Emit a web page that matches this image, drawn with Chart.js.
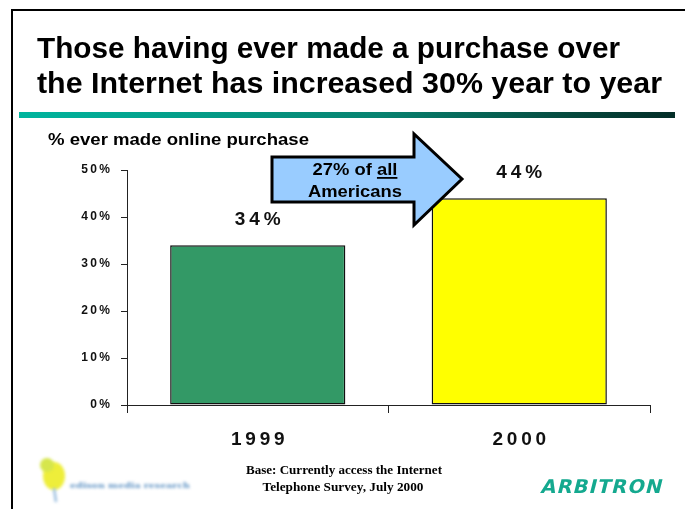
<!DOCTYPE html>
<html lang="en">
<head>
  <meta charset="UTF-8">
  <title>Online purchase</title>
  <script src="https://cdn.jsdelivr.net/npm/chart.js@4/dist/chart.umd.min.js"></script>
  <style>
    body {
      margin: 0;
      padding: 0;
      background-color: #ffffff;
    }
    canvas {
      display: block;
    }
  </style>
</head>
<body>
  <canvas id="chart" width="685" height="509"></canvas>

  <script>
    // Data
    const years = ['1999', '2000'];
    const purchased = [34, 44];
    const barColors = ['#339966', '#ffff00'];
    const yTicks = [0, 10, 20, 30, 40, 50];

    const titleLines = [
      'Those having ever made a purchase over',
      'the Internet has increased 30% year to year'
    ];
    const axisTitle = '% ever made online purchase';
    const footLines = ['Base: Currently access the Internet', 'Telephone Survey, July 2000'];

    // put thin spaces between characters (wide tracking on the axis labels)
    function spread(s) {
      return String(s).split('').join('\u2009');
    }

    // draw text squeezed/stretched to a given width
    function fitText(ctx, text, x, y, width, align) {
      const w = ctx.measureText(text).width;
      const sx = width / w;
      ctx.save();
      ctx.translate(x, y);
      ctx.scale(sx, 1);
      ctx.textAlign = align || 'left';
      ctx.fillText(text, 0, 0);
      ctx.restore();
    }

    // value labels above the bars
    const valueLabels = {
      id: 'valueLabels',
      afterDatasetsDraw(chart) {
        const ctx = chart.ctx;
        const meta = chart.getDatasetMeta(0);
        ctx.save();
        ctx.font = 'bold 19px "Liberation Sans", Arial, sans-serif';
        ctx.fillStyle = '#111';
        ctx.textAlign = 'center';
        ctx.textBaseline = 'alphabetic';
        ctx.letterSpacing = '4px';
        meta.data.forEach((bar, i) => {
          ctx.fillText(purchased[i] + '%', bar.x + 2, bar.y - 20);
        });
        ctx.restore();
      }
    };

    // slide decoration: frame, title, rule, arrow callout, footer
    const slide = {
      id: 'slide',
      afterDraw(chart) {
        const ctx = chart.ctx;
        ctx.save();

        // frame
        ctx.fillStyle = '#000';
        ctx.fillRect(11, 9, 685, 2);
        ctx.fillRect(11, 9, 2, 509);

        // title
        ctx.fillStyle = '#000';
        ctx.font = 'bold 29px "Liberation Sans", Arial, sans-serif';
        ctx.textBaseline = 'alphabetic';
        fitText(ctx, titleLines[0], 37, 58, 583);
        fitText(ctx, titleLines[1], 37, 93, 625);

        // rule under the title
        const g = ctx.createLinearGradient(19, 0, 675, 0);
        g.addColorStop(0, '#00b59e');
        g.addColorStop(0.55, '#078270');
        g.addColorStop(0.85, '#06483d');
        g.addColorStop(1, '#032d27');
        ctx.fillStyle = g;
        ctx.fillRect(19, 112, 656, 6);

        // axis title
        ctx.fillStyle = '#000';
        ctx.font = 'bold 16px "Liberation Sans", Arial, sans-serif';
        fitText(ctx, axisTitle, 48, 145, 261);

        // arrow callout
        ctx.beginPath();
        ctx.moveTo(272, 157);
        ctx.lineTo(414, 157);
        ctx.lineTo(414, 134);
        ctx.lineTo(462, 179);
        ctx.lineTo(414, 225);
        ctx.lineTo(414, 202);
        ctx.lineTo(272, 202);
        ctx.closePath();
        ctx.fillStyle = '#99ccff';
        ctx.fill();
        ctx.lineWidth = 3;
        ctx.lineJoin = 'miter';
        ctx.strokeStyle = '#000';
        ctx.stroke();

        ctx.fillStyle = '#000';
        ctx.font = 'bold 17px "Liberation Sans", Arial, sans-serif';
        const sx = 94 / ctx.measureText('Americans').width;
        ctx.save();
        ctx.translate(355, 175);
        ctx.scale(sx, 1);
        const pre = '27% of ';
        const wPre = ctx.measureText(pre).width;
        const wAll = ctx.measureText('all').width;
        const x0 = -(wPre + wAll) / 2;
        ctx.textAlign = 'left';
        ctx.fillText(pre, x0, 0);
        ctx.fillText('all', x0 + wPre, 0);
        ctx.fillRect(x0 + wPre, 2, wAll, 1.8);
        ctx.restore();
        fitText(ctx, 'Americans', 355, 197, 94, 'center');

        // footer note
        ctx.font = 'bold 12px "Liberation Serif", "Times New Roman", serif';
        ctx.fillStyle = '#000';
        fitText(ctx, footLines[0], 344, 474, 196, 'center');
        fitText(ctx, footLines[1], 343, 491, 161, 'center');

        // ARBITRON wordmark
        ctx.fillStyle = '#14a98f';
        ctx.font = 'bold 19px "DejaVu Sans", sans-serif';
        ctx.save();
        ctx.translate(540, 493);
        ctx.transform(1, 0, -0.25, 1, 0, 0);
        ctx.letterSpacing = '1px';
        fitText(ctx, 'ARBITRON', 0, 0, 122);
        ctx.restore();

        // edison media research mark (soft)
        ctx.filter = 'blur(1.5px)';
        ctx.fillStyle = '#eeee3a';
        ctx.beginPath();
        ctx.ellipse(54, 476, 11, 14, 0, 0, Math.PI * 2);
        ctx.fill();
        ctx.fillStyle = '#d6e64c';
        ctx.beginPath();
        ctx.ellipse(47, 465, 7, 7, 0, 0, Math.PI * 2);
        ctx.fill();
        ctx.strokeStyle = '#9cbfe0';
        ctx.lineWidth = 2.5;
        ctx.beginPath();
        ctx.moveTo(54, 488);
        ctx.lineTo(56, 502);
        ctx.stroke();
        ctx.fillStyle = '#5f93c4';
        ctx.font = 'bold 8px "DejaVu Serif", serif';
        fitText(ctx, 'edison media research', 70, 488, 120);
        ctx.filter = 'none';

        ctx.restore();
      }
    };

    const ctx = document.getElementById('chart').getContext('2d');
    const chart = new Chart(ctx, {
      type: 'bar',
      data: {
        labels: years,
        datasets: [{
          data: purchased,
          backgroundColor: barColors,
          borderColor: '#111',
          borderWidth: 1.5,
          borderSkipped: false,
          categoryPercentage: 1,
          barPercentage: 0.67
        }]
      },
      options: {
        responsive: false,
        animation: false,
        layout: {
          padding: { left: 0, right: 35, top: 170, bottom: 54 }
        },
        plugins: {
          legend: { display: false },
          tooltip: { enabled: false }
        },
        scales: {
          x: {
            grid: {
              offset: true,
              drawOnChartArea: false,
              tickLength: 8,
              color: '#222'
            },
            border: { color: '#222', width: 1 },
            ticks: {
              padding: 15,
              color: '#111',
              font: { family: '"Liberation Sans", Arial, sans-serif', size: 19, weight: 'bold' },
              callback: function (v, i) { return spread(years[i]); }
            },
            afterFit: function (scale) { scale.height = 50; }
          },
          y: {
            min: 0,
            max: 50,
            afterBuildTicks: function (scale) {
              scale.ticks = yTicks.map(v => ({ value: v }));
            },
            grid: {
              drawOnChartArea: false,
              tickLength: 6,
              color: '#222'
            },
            border: { color: '#222', width: 1 },
            ticks: {
              padding: 11,
              color: '#111',
              font: { family: '"Liberation Sans", Arial, sans-serif', size: 12, weight: 'bold' },
              callback: function (v) { return spread(v + '%'); }
            },
            afterFit: function (scale) { scale.width = 127; }
          }
        }
      },
      plugins: [valueLabels, slide]
    });
  </script>
</body>
</html>
